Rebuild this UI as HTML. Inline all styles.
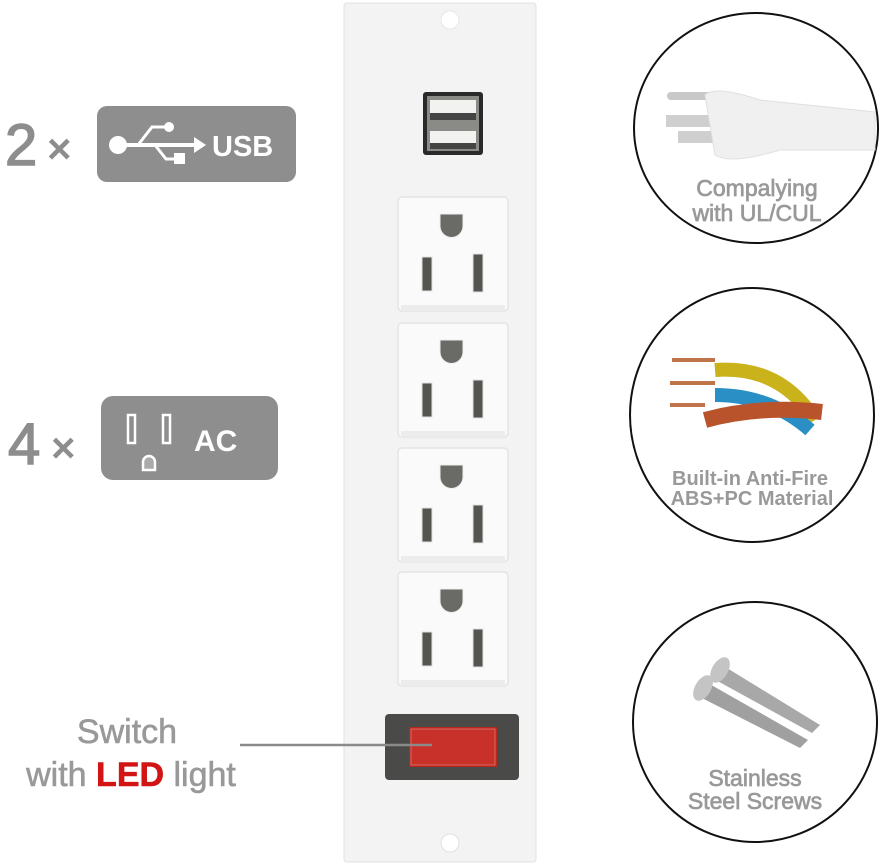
<!DOCTYPE html>
<html><head><meta charset="utf-8"><style>
html,body{margin:0;padding:0;background:#fff;}
svg{display:block;font-family:"Liberation Sans",Arial,sans-serif;}
</style></head><body>
<svg width="883" height="866" viewBox="0 0 883 866" xmlns="http://www.w3.org/2000/svg">
<defs>
<g id="outlet">
<rect x="0" y="0" width="110" height="114" rx="4" fill="#fafafa" stroke="#e4e4e4" stroke-width="1.5"/>
<rect x="3" y="108" width="104" height="6" fill="#ececec"/>
<path d="M42 17 h23 v12 a11.5 11.5 0 0 1 -23 0 z" fill="#6a6a66" stroke="#eee" stroke-width="1"/>
<rect x="24" y="60" width="10" height="34" fill="#55554f" stroke="#e0e0e0"/>
<rect x="75" y="57" width="10" height="38" fill="#55554f" stroke="#e0e0e0"/>
</g>
</defs>
<rect x="344" y="3" width="192" height="859" rx="3" fill="#f3f3f3" stroke="#e2e2e2"/>
<circle cx="450" cy="20" r="9" fill="#fff" stroke="#e8e8e8"/>
<circle cx="450" cy="843" r="9" fill="#fff" stroke="#e0e0e0"/>
<rect x="423" y="92" width="60" height="63" rx="3" fill="#2a2a2a"/>
<rect x="427" y="96" width="52" height="55" fill="#8a8a86"/>
<rect x="430" y="100" width="46" height="13" fill="#f2f2f0"/>
<rect x="430" y="113" width="46" height="7" fill="#444"/>
<rect x="430" y="131" width="46" height="12" fill="#f2f2f0"/>
<rect x="430" y="143" width="46" height="6" fill="#444"/>
<use href="#outlet" x="398" y="197"/>
<use href="#outlet" x="398" y="323"/>
<use href="#outlet" x="398" y="448"/>
<use href="#outlet" x="398" y="572"/>
<rect x="385" y="714" width="134" height="66" rx="4" fill="#4a4a48"/>
<rect x="409" y="727" width="88" height="40" fill="#b8261e"/>
<rect x="411" y="729" width="84" height="36" fill="#c8312a" stroke="#d96a60" stroke-width="1"/>
<line x1="240" y1="745" x2="432" y2="745" stroke="#8a8a8a" stroke-width="2.5"/>
<text x="5" y="165" font-size="58" fill="#8d8d8d" stroke="#8d8d8d" stroke-width="1.5">2</text>
<text x="47" y="163" font-size="42" font-weight="bold" fill="#8d8d8d">×</text>
<rect x="97" y="106" width="199" height="76" rx="10" fill="#8e8e8e"/>
<circle cx="118" cy="145" r="9" fill="#fff"/>
<path d="M120 145 H196" stroke="#fff" stroke-width="4"/>
<path d="M194 137 L206 145 L194 153 Z" fill="#fff"/>
<path d="M138 145 L152 127 H166" stroke="#fff" stroke-width="3" fill="none"/>
<circle cx="169" cy="127" r="5" fill="#fff"/>
<path d="M155 145 L166 159 H176" stroke="#fff" stroke-width="3" fill="none"/>
<rect x="174" y="153" width="11" height="11" fill="#fff"/>
<text x="212" y="156" font-size="29" font-weight="bold" fill="#fff">USB</text>
<text x="8" y="464" font-size="58" fill="#8d8d8d" stroke="#8d8d8d" stroke-width="1.5">4</text>
<text x="51" y="462" font-size="42" font-weight="bold" fill="#8d8d8d">×</text>
<rect x="101" y="396" width="177" height="84" rx="12" fill="#8e8e8e"/>
<rect x="128" y="415" width="7" height="28" fill="none" stroke="#fff" stroke-width="2.5"/>
<rect x="163" y="415" width="7" height="28" fill="none" stroke="#fff" stroke-width="2.5"/>
<path d="M143 470 v-8 a6 6 0 0 1 12 0 v8 z" fill="#aaa" stroke="#fff" stroke-width="2.5"/>
<text x="194" y="451" font-size="30" font-weight="bold" fill="#fff">AC</text>
<text x="127" y="743" font-size="34" fill="#999" stroke="#999" stroke-width="0.6" text-anchor="middle">Switch</text>
<text x="131" y="786" font-size="34" fill="#999" stroke="#999" stroke-width="0.6" text-anchor="middle">with <tspan fill="#d21414" stroke="#d21414" font-weight="bold">LED</tspan> light</text>
<ellipse cx="756" cy="128" rx="122" ry="115" fill="#fff" stroke="#111" stroke-width="2"/>
<rect x="667" y="92" width="48" height="8" rx="4" fill="#c8c8c8"/>
<rect x="666" y="115" width="48" height="12" fill="#cfcfcf"/>
<rect x="678" y="131" width="38" height="12" fill="#cfcfcf"/>
<path d="M705 95 Q715 85 760 100 L875 112 L875 150 L780 150 Q730 165 715 155 Z" fill="#f0f0f0" stroke="#e0e0e0"/>
<text x="757" y="196" font-size="23" fill="#999" stroke="#999" stroke-width="0.7" text-anchor="middle">Compalying</text>
<text x="757" y="221" font-size="23" fill="#999" stroke="#999" stroke-width="0.7" text-anchor="middle">with UL/CUL</text>
<ellipse cx="752" cy="415" rx="122" ry="127" fill="#fff" stroke="#111" stroke-width="2"/>
<path d="M715 370 Q780 365 815 420" stroke="#c9b21a" stroke-width="14" fill="none"/>
<path d="M715 395 Q770 395 810 430" stroke="#2a8fc4" stroke-width="14" fill="none"/>
<path d="M705 420 Q760 405 822 412" stroke="#b9532c" stroke-width="16" fill="none"/>
<path d="M672 360 H715 M670 383 H715 M670 405 H705" stroke="#c0744a" stroke-width="4"/>
<text x="750" y="485" font-size="20" font-weight="bold" fill="#999" text-anchor="middle">Built-in Anti-Fire</text>
<text x="752" y="505" font-size="20" font-weight="bold" fill="#999" text-anchor="middle">ABS+PC Material</text>
<ellipse cx="755" cy="722" rx="122" ry="120" fill="#fff" stroke="#111" stroke-width="2"/>
<path d="M722 665 L820 725 L812 733 L712 678 Z" fill="#a8a8a8"/>
<path d="M706 682 L808 740 L800 748 L696 695 Z" fill="#a0a0a0"/>
<ellipse cx="720" cy="670" rx="8" ry="14" fill="#c4c4c4" transform="rotate(30 720 670)"/>
<ellipse cx="703" cy="688" rx="8" ry="14" fill="#c4c4c4" transform="rotate(30 703 688)"/>
<text x="755" y="786" font-size="23" fill="#999" stroke="#999" stroke-width="0.7" text-anchor="middle">Stainless</text>
<text x="755" y="809" font-size="23" fill="#999" stroke="#999" stroke-width="0.7" text-anchor="middle">Steel Screws</text>
</svg>
</body></html>
